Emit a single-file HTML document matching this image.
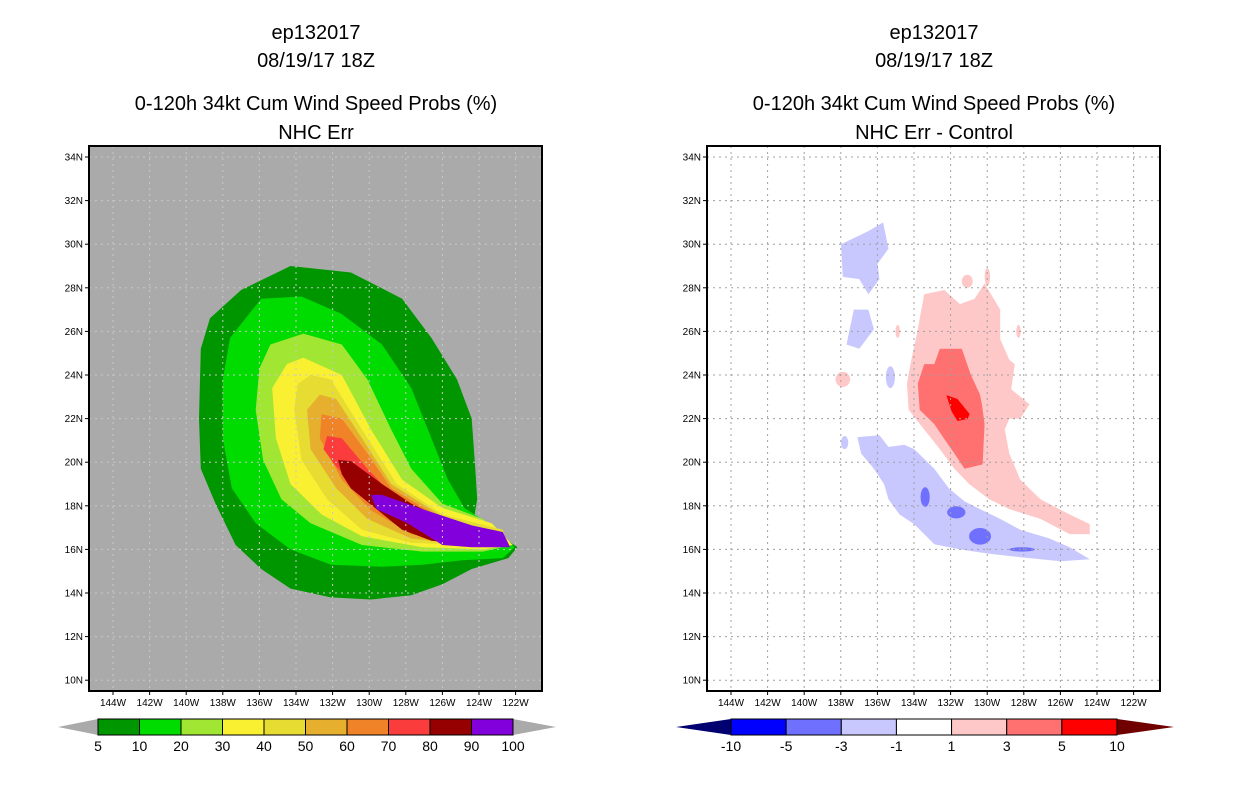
<!DOCTYPE html>
<html><head><meta charset="utf-8"><style>
body{margin:0;background:#fff;width:1236px;height:800px;overflow:hidden}
svg{display:block;font-family:"Liberation Sans",sans-serif}
</style></head><body>
<svg id="s" width="1236" height="800" viewBox="0 0 1236 800">
<g font-size="20" text-anchor="middle" fill="#000">
<text x="316" y="39">ep132017</text><text x="316" y="67">08/19/17 18Z</text>
<text x="316" y="110">0-120h 34kt Cum Wind Speed Probs (%)</text><text x="316" y="139">NHC Err</text></g>
<g font-size="20" text-anchor="middle" fill="#000">
<text x="934" y="39">ep132017</text><text x="934" y="67">08/19/17 18Z</text>
<text x="934" y="110">0-120h 34kt Cum Wind Speed Probs (%)</text><text x="934" y="139">NHC Err - Control</text></g>
<g id="L"></g><g id="R"></g>
</svg>
<script>
const NS="http://www.w3.org/2000/svg";
const latTicks=[34,32,30,28,26,24,22,20,18,16,14,12,10];
const lonTicks=[144,142,140,138,136,134,132,130,128,126,124,122];
const probLevels=[5,10,20,30,40,50,60,70,80,90,100];
const probColors=["#009600","#00dc00","#a0e632","#faf032","#e6dc32","#e6af2d","#f08228","#fa3c3c","#960000","#8200dc"];
const diffLevels=["-10","-5","-3","-1","1","3","5","10"];
const diffColors=["#0000ff","#7070ff","#c8c8ff","#ffffff","#ffc8c8","#ff7070","#ff0000"];
// probability contours [lonW, latN]
const prob5=[[134.3,29.0],[131.0,28.7],[128.2,27.5],[126.6,25.7],[125.2,23.8],[124.4,22.0],[124.2,19.7],[124.1,18.3],[124.3,17.3],[123.3,16.9],[121.9,16.1],[122.4,15.6],[124.4,15.1],[126.0,14.4],[127.7,13.9],[129.9,13.7],[132.1,13.8],[134.3,14.2],[135.9,15.1],[137.3,16.2],[138.4,18.1],[139.2,19.7],[139.3,22.0],[139.2,25.2],[138.7,26.6],[137.0,27.9]];
const prob10=[[135.9,27.5],[133.7,27.6],[131.5,26.8],[129.3,25.4],[127.7,23.4],[126.6,21.1],[125.7,19.2],[124.8,17.9],[123.3,17.1],[122.05,16.1],[122.7,15.6],[124.9,15.5],[127.1,15.3],[129.3,15.2],[132.1,15.3],[134.3,16.0],[136.2,17.2],[137.5,18.8],[138.0,21.1],[138.0,23.8],[137.6,25.7]];
const prob20=[[135.4,25.4],[133.6,25.9],[131.5,25.4],[130.1,23.8],[128.8,21.5],[127.7,19.7],[126.0,18.1],[123.8,17.4],[122.16,16.2],[123.8,15.9],[127.1,15.9],[130.4,16.2],[133.2,17.2],[134.8,18.3],[135.8,20.1],[136.2,22.4],[136.0,24.3]];
const prob30=[[134.5,24.5],[133.6,24.8],[131.5,24.0],[129.9,21.5],[128.2,19.2],[126.0,17.9],[123.3,17.2],[122.16,16.2],[123.8,16.0],[127.1,16.1],[130.4,16.6],[132.6,17.6],[134.3,19.0],[135.1,21.1],[135.3,23.4]];
const prob40=[[133.9,23.6],[133.2,24.0],[132.1,23.8],[130.4,21.5],[128.5,19.0],[126.0,17.6],[122.7,16.9],[122.4,16.1],[124.4,16.2],[127.7,16.3],[130.4,16.9],[132.3,18.3],[133.7,20.1],[134.1,22.4]];
const prob50=[[132.7,23.1],[131.8,22.9],[130.4,21.1],[128.8,19.0],[126.0,17.5],[122.7,16.7],[122.4,16.15],[124.4,16.2],[127.7,16.5],[130.1,17.4],[131.8,18.8],[133.2,20.6],[133.4,22.4]];
const prob60=[[132.6,22.2],[131.5,22.0],[130.1,20.4],[128.8,18.8],[126.0,17.4],[122.7,16.6],[122.4,16.2],[124.9,16.3],[127.7,16.7],[129.9,17.8],[131.5,19.2],[132.7,21.1]];
const prob70=[[132.3,21.2],[131.5,21.1],[130.1,19.7],[128.5,18.3],[126.0,17.2],[122.7,16.5],[122.4,16.2],[124.4,16.3],[127.1,16.7],[129.0,17.6],[130.7,18.8],[131.9,19.9],[132.5,20.6]];
const prob80=[[131.7,20.1],[131.0,20.05],[129.3,19.0],[127.7,18.1],[125.5,17.2],[122.7,16.5],[124.4,16.2],[126.6,16.4],[128.2,16.9],[129.6,17.85],[131.0,18.8],[131.5,19.45]];
const prob90=[[129.9,18.5],[129.3,18.5],[127.1,17.85],[124.4,17.1],[122.7,16.8],[122.3,16.1],[124.4,16.1],[126.0,16.2],[127.9,17.2],[129.6,17.85]];
const probSeries=[prob5,prob10,prob20,prob30,prob40,prob50,prob60,prob70,prob80,prob90];
// difference contours
const negNW=[[138.1,30.0],[136.6,30.6],[135.8,31.0],[135.5,29.8],[136.1,29.1],[136.0,28.4],[136.6,27.7],[137.1,28.4],[138.0,28.5]];
const negW=[[137.4,27.0],[136.6,27.0],[136.3,26.1],[137.1,25.2],[137.8,25.4]];
const negSE=[[137.2,21.15],[136.0,21.24],[135.5,20.7],[134.65,20.8],[134.1,20.6],[133.0,19.7],[132.2,18.8],[131.35,18.2],[130.5,17.85],[129.4,17.4],[128.3,16.9],[126.7,16.5],[125.6,16.1],[124.5,15.55],[126.1,15.46],[128.3,15.64],[130.0,15.8],[131.6,16.0],[133.0,16.24],[134.1,17.16],[134.9,17.6],[135.5,18.3],[135.75,19.0],[136.3,19.7],[137.0,20.4]];
const negSmall=[[135.4,23.9,0.25,0.5],[137.9,20.9,0.2,0.3]];
const neg3Blobs=[[133.5,18.4,0.25,0.45],[131.8,17.7,0.5,0.28],[130.5,16.6,0.6,0.38],[128.2,16.0,0.7,0.1]];
const posBig=[[133.55,27.7],[132.45,27.9],[131.6,27.25],[130.8,27.5],[130.25,28.2],[129.4,27.0],[129.4,25.65],[128.9,24.7],[128.6,24.5],[128.8,23.35],[127.8,22.66],[128.3,22.0],[128.9,22.0],[129.15,21.5],[128.9,20.4],[128.3,19.2],[127.2,18.3],[125.6,17.6],[124.5,17.16],[124.5,16.7],[125.6,16.7],[127.2,17.4],[128.9,17.85],[130.0,18.3],[131.1,19.0],[131.9,19.7],[132.7,20.6],[133.55,21.5],[134.4,22.4],[134.5,23.6],[134.3,24.5],[133.9,26.1]];
const posSmall=[[138.0,23.8,0.4,0.35],[131.2,28.3,0.3,0.3],[130.1,28.5,0.15,0.4],[128.4,26.0,0.12,0.3],[135.0,26.0,0.12,0.3]];
const pos3=[[132.7,25.2],[131.5,25.2],[131.0,24.0],[130.5,23.1],[130.4,22.66],[130.25,21.75],[130.36,19.9],[131.35,19.7],[131.9,20.4],[132.45,21.06],[133.0,21.75],[133.8,22.4],[133.9,23.6],[133.55,24.5],[133.0,24.5]];
const pos5=[[132.34,23.08],[131.73,22.9],[131.07,22.21],[131.18,21.98],[131.73,21.89],[132.06,22.34]];

const X0L=89,Y0=146,W=453,H=545;
function xs(off,lon){return off+113+(144-lon)*18.3;}
function ys(lat){return 157+(34-lat)*21.8;}
function el(t,a,p){const e=document.createElementNS(NS,t);for(const k in a)e.setAttribute(k,a[k]);p.appendChild(e);return e;}
function poly(g,off,pts,fill){return el("polygon",{points:pts.map(p=>xs(off,p[0]).toFixed(1)+","+ys(p[1]).toFixed(1)).join(" "),fill:fill},g);}
function ell(g,off,b,fill){return el("ellipse",{cx:xs(off,b[0]),cy:ys(b[1]),rx:b[2]*18.3,ry:b[3]*21.8,fill:fill},g);}

function panel(g,off,bg,gridColor){
  const x0=X0L+off;
  const bgr=el("rect",{x:x0,y:Y0,width:W,height:H,fill:bg},g);
  
  
  return x0;
}
function grid(g,off,color){
  const x0=X0L+off;
  const gg=el("g",{stroke:color,"stroke-width":1,"stroke-dasharray":"2,4"},g);
  
  
  latTicks.forEach(l=>el("line",{x1:x0,x2:x0+W,y1:ys(l),y2:ys(l)},gg));
  lonTicks.forEach(l=>el("line",{y1:Y0,y2:Y0+H,x1:xs(off,l),x2:xs(off,l)},gg));
  const fr=el("rect",{x:x0,y:Y0,width:W,height:H,fill:"none",stroke:"#000","stroke-width":2},g);
  
  
  const ax=el("g",{"font-size":10,fill:"#000"},g);
  
  
  latTicks.forEach(l=>{el("line",{x1:x0-4,x2:x0,y1:ys(l),y2:ys(l),stroke:"#000"},ax);
    const t=el("text",{x:x0-6,y:ys(l)+3.5,"text-anchor":"end"},ax);t.textContent=l+"N";
    
    });
  lonTicks.forEach(l=>{el("line",{x1:xs(off,l),x2:xs(off,l),y1:Y0+H,y2:Y0+H+4,stroke:"#000"},ax);
    const t=el("text",{x:xs(off,l),y:Y0+H+15,"text-anchor":"middle"},ax);t.textContent=l+"W";
    
    });
}
function colorbar(g,x0,x1,tl,tr,colors,labels,lc,rc){
  const cb=el("g",{},g);
  
  
  const y0=719,y1=735,n=colors.length,w=(x1-x0)/n;
  el("polygon",{points:`${tl},727 ${x0},${y0} ${x0},${y1}`,fill:lc},cb);
  el("polygon",{points:`${tr},727 ${x1},${y0} ${x1},${y1}`,fill:rc},cb);
  colors.forEach((c,i)=>{const r=el("rect",{x:x0+i*w,y:y0,width:w,height:y1-y0,fill:c,stroke:"#000","stroke-width":1},cb);
    
    });
  labels.forEach((s,i)=>{const t=el("text",{x:x0+i*w,y:751,"text-anchor":"middle","font-size":14},cb);t.textContent=s;
    
    });
}
// left panel
const L=document.getElementById("L");


panel(L,0,"#aaaaaa");
const cg=el("g",{},L);


probSeries.forEach((s,i)=>{const p=poly(cg,0,s,probColors[i]);
  
  });
grid(L,0,"#c8c8c8");
colorbar(L,98,513,58,556,probColors,probLevels.map(String),"#aaaaaa","#aaaaaa");
// right panel
const R=document.getElementById("R");


const off=620;
panel(R,off-2,"#ffffff");
const dg=el("g",{},R);


[negNW,negW,negSE].forEach(s=>{const p=poly(dg,off,s,"#c8c8ff");
  
  });
negSmall.forEach(b=>{const e=ell(dg,off,b,"#c8c8ff");
  
  });
neg3Blobs.forEach(b=>{const e=ell(dg,off,b,"#7070ff");
  
  });
const pb=poly(dg,off,posBig,"#ffc8c8");


posSmall.forEach(b=>{const e=ell(dg,off,b,"#ffc8c8");
  
  });
const p3=poly(dg,off,pos3,"#ff7070");


const p5=poly(dg,off,pos5,"#ff0000");


grid(R,off-2,"#a0a0a0");
colorbar(R,731,1117,676,1174,diffColors,diffLevels,"#000070","#700000");
</script>
</body></html>
